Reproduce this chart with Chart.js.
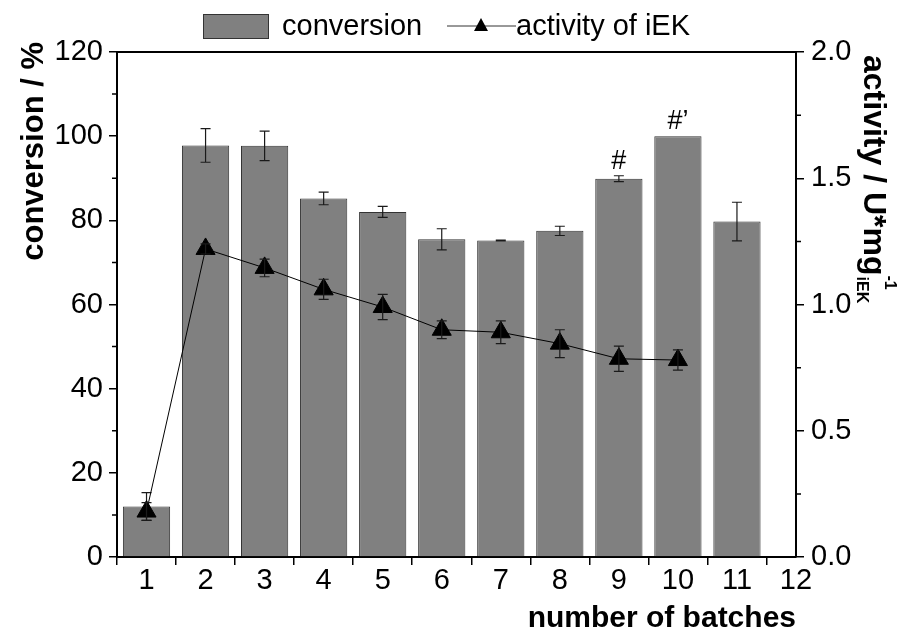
<!DOCTYPE html>
<html>
<head>
<meta charset="utf-8">
<script src="https://cdn.jsdelivr.net/npm/chart.js@4.4.1/dist/chart.umd.min.js"></script>
<style>
    body { margin: 0; background: #fff; }
</style>
</head>
<body>
<canvas id="myCanvas" width="904" height="634"></canvas>
<script>
// data
const batches = [1, 2, 3, 4, 5, 6, 7, 8, 9, 10, 11];
const conversion = [12.0, 97.8, 97.7, 85.2, 82.0, 75.5, 75.2, 77.5, 89.9, 100.0, 79.7];
const conversionErr = [3.3, 4.0, 3.5, 1.5, 1.3, 2.5, 0.1, 1.1, 0.7, 0, 4.6];
const marks = ['', '', '', '', '', '', '', '', '#', '#\u2019', ''];

const activityBatches = [1, 2, 3, 4, 5, 6, 7, 8, 9, 10];
const activity = [0.18, 1.22, 1.145, 1.06, 0.99, 0.90, 0.89, 0.845, 0.785, 0.78];
const activityErr = [0.035, 0.02, 0.035, 0.04, 0.05, 0.035, 0.045, 0.055, 0.05, 0.04];

const xTicks = [1, 2, 3, 4, 5, 6, 7, 8, 9, 10, 11, 12];
const minorLeft = [10, 30, 50, 70, 90, 110];
const minorRight = [0.25, 0.75, 1.25, 1.75];

const FONT = '"Liberation Sans", Arial, sans-serif';
const TICK_SIZE = 29;

const extras = {
    id: 'extras',
    afterDatasetDraw(chart, args) {
        const ctx = chart.ctx;
        const meta = args.meta;
        const ds = chart.data.datasets[args.index];
        const yScale = chart.scales[meta.yAxisID];
        ctx.save();
        ctx.strokeStyle = '#1a1a1a';
        ctx.lineWidth = 1.2;
        meta.data.forEach((el, i) => {
            const v = ds.data[i].y;
            const e = ds.errors[i];
            if (!e) return;
            const top = yScale.getPixelForValue(v + e);
            const bot = yScale.getPixelForValue(v - e);
            ctx.beginPath();
            ctx.moveTo(el.x, top); ctx.lineTo(el.x, bot);
            ctx.moveTo(el.x - 5, top); ctx.lineTo(el.x + 5, top);
            ctx.moveTo(el.x - 5, bot); ctx.lineTo(el.x + 5, bot);
            ctx.stroke();
        });
        // # marks above bars
        if (ds.marks) {
            ctx.fillStyle = '#000';
            ctx.font = '27px ' + FONT;
            ctx.textAlign = 'center';
            ctx.textBaseline = 'alphabetic';
            meta.data.forEach((el, i) => {
                if (!ds.marks[i]) return;
                const y = yScale.getPixelForValue(ds.data[i].y + ds.errors[i]);
                ctx.fillText(ds.marks[i], el.x, y - 7);
            });
        }
        ctx.restore();
    },
    afterDraw(chart) {
        const ctx = chart.ctx;
        const area = chart.chartArea;
        const yL = chart.scales.y;
        const yR = chart.scales.y1;
        ctx.save();
        // top frame line
        ctx.strokeStyle = '#000';
        ctx.lineWidth = 2;
        ctx.beginPath();
        ctx.moveTo(area.left - 1, area.top);
        ctx.lineTo(area.right + 1, area.top);
        ctx.stroke();
        // minor ticks
        ctx.lineWidth = 1.5;
        ctx.beginPath();
        minorLeft.forEach(v => {
            const y = yL.getPixelForValue(v);
            ctx.moveTo(area.left - 5, y); ctx.lineTo(area.left, y);
        });
        minorRight.forEach(v => {
            const y = yR.getPixelForValue(v);
            ctx.moveTo(area.right, y); ctx.lineTo(area.right + 5, y);
        });
        ctx.stroke();

        // legend
        ctx.fillStyle = '#808080';
        ctx.fillRect(203, 14, 65, 24);
        ctx.strokeStyle = '#333';
        ctx.lineWidth = 1;
        ctx.strokeRect(203.5, 14.5, 65, 24);
        ctx.fillStyle = '#000';
        ctx.font = '29px ' + FONT;
        ctx.textAlign = 'left';
        ctx.textBaseline = 'middle';
        ctx.fillText('conversion', 282, 27);
        ctx.beginPath();
        ctx.moveTo(447, 26); ctx.lineTo(516, 26);
        ctx.stroke();
        ctx.beginPath();
        ctx.moveTo(481, 18); ctx.lineTo(488, 31); ctx.lineTo(474, 31);
        ctx.closePath();
        ctx.fill();
        ctx.fillText('activity of iEK', 516, 27);

        // left axis title
        ctx.save();
        ctx.translate(43, 42);
        ctx.rotate(-Math.PI / 2);
        ctx.textAlign = 'right';
        ctx.textBaseline = 'alphabetic';
        ctx.font = 'bold 31px ' + FONT;
        ctx.fillText('conversion / %', 0, 0);
        ctx.restore();

        // right axis title with sub/superscript
        ctx.translate(864, 55);
        ctx.rotate(Math.PI / 2);
        ctx.textAlign = 'left';
        ctx.textBaseline = 'alphabetic';
        ctx.font = 'bold 32px ' + FONT;
        const main = 'activity / U*mg';
        ctx.fillText(main, 0, 0);
        const w = ctx.measureText(main).width;
        ctx.font = 'bold 16px ' + FONT;
        ctx.fillText('iEK', w + 1, 7);
        ctx.fillText('-1', w, -21);
        ctx.restore();
    }
};

const ctx = document.getElementById('myCanvas');
new Chart(ctx, {
    type: 'bar',
    data: {
        datasets: [{
            type: 'line',
            label: 'activity of iEK',
            data: activityBatches.map((b, i) => ({x: b, y: activity[i]})),
            errors: activityErr,
            yAxisID: 'y1',
            borderColor: '#000',
            borderWidth: 1,
            pointStyle: 'triangle',
            pointRadius: 11,
            pointBackgroundColor: '#000',
            pointBorderColor: '#000',
            pointBorderWidth: 1,
            order: 0
        }, {
            type: 'bar',
            label: 'conversion',
            data: batches.map((b, i) => ({x: b, y: conversion[i]})),
            errors: conversionErr,
            marks: marks,
            yAxisID: 'y',
            backgroundColor: '#808080',
            borderColor: '#333',
            borderWidth: 1,
            barPercentage: 0.8,
            categoryPercentage: 1.0,
            order: 1
        }]
    },
    options: {
        responsive: false,
        animation: false,
        layout: {padding: {top: 52}},
        plugins: {legend: {display: false}, tooltip: {enabled: false}},
        scales: {
            x: {
                type: 'linear',
                offset: false,
                min: 0.5,
                max: 12,
                afterBuildTicks: s => { s.ticks = xTicks.map(v => ({value: v})); },
                afterFit: s => { s.height = 77; },
                ticks: {
                    autoSkip: false,
                    maxRotation: 0,
                    padding: 0,
                    color: '#000',
                    font: {family: FONT, size: TICK_SIZE, lineHeight: 1.1}
                },
                grid: {
                    offset: true,
                    drawOnChartArea: false,
                    tickLength: 8,
                    color: '#000',
                    lineWidth: 1.5
                },
                border: {color: '#000', width: 2},
                title: {
                    display: true,
                    text: 'number of batches',
                    align: 'end',
                    color: '#000',
                    padding: {top: 0, bottom: 0},
                    font: {family: FONT, size: 30, weight: 'bold', lineHeight: 1}
                }
            },
            y: {
                position: 'left',
                min: 0,
                max: 120,
                afterFit: s => { s.width = 117; },
                ticks: {
                    stepSize: 20,
                    padding: 6,
                    color: '#000',
                    font: {family: FONT, size: TICK_SIZE}
                },
                grid: {
                    drawOnChartArea: false,
                    tickLength: 8,
                    color: '#000',
                    lineWidth: 1.5
                },
                border: {color: '#000', width: 2}
            },
            y1: {
                position: 'right',
                min: 0,
                max: 2,
                afterFit: s => { s.width = 108; },
                ticks: {
                    stepSize: 0.5,
                    padding: 7,
                    color: '#000',
                    font: {family: FONT, size: TICK_SIZE},
                    callback: v => v.toFixed(1)
                },
                grid: {
                    drawOnChartArea: false,
                    tickLength: 8,
                    color: '#000',
                    lineWidth: 1.5
                },
                border: {color: '#000', width: 2}
            }
        }
    },
    plugins: [extras]
});
</script>
</body>
</html>
